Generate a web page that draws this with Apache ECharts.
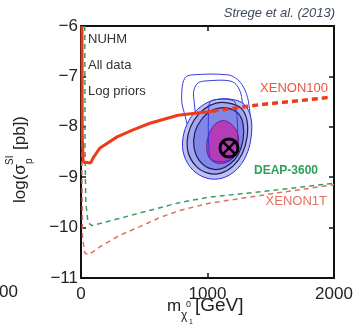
<!DOCTYPE html>
<html>
<head>
<meta charset="utf-8">
<script src="https://cdn.jsdelivr.net/npm/echarts@6/dist/echarts.min.js"></script>
<style>
html, body { margin: 0; padding: 0; background: #fff; }
#chart { width: 356px; height: 332px; }
</style>
</head>
<body>
<div id="chart"></div>
<script>
// axes
var xTicks = [0, 1000, 2000];
var yTicks = [-11, -10, -9, -8, -7, -6];

// limit curves, [neutralino mass GeV, log10 sigma_SI pb]
var xenon100 = [[8, -6], [10, -8.2], [18, -8.7], [75, -8.72], [100, -8.6], [150, -8.42], [285, -8.2],
    [411, -8.06], [545, -7.93], [767, -7.77], [1040, -7.69]];
var xenon100Ext = [[1040, -7.69], [1415, -7.56], [1731, -7.48], [1950, -7.42]];
var deap3600 = [[30, -6], [32, -8.5], [38, -9.5], [55, -9.9], [87, -9.96], [150, -9.92], [300, -9.82],
    [466, -9.71], [783, -9.5], [1004, -9.4], [1557, -9.25], [2000, -9.12]];
var xenon1t = [[5, -6], [8, -9], [12, -10.2], [30, -10.5], [55, -10.54], [100, -10.47], [150, -10.38],
    [300, -10.16], [466, -9.98], [624, -9.8], [783, -9.66], [1004, -9.52], [1557, -9.31], [2000, -9.15]];

// credible regions (outer -> inner)
var ring1 = [[806, -7.63], [798, -7.27], [822, -7.03], [877, -6.97], [1162, -6.97], [1241, -7.07],
    [1296, -7.27], [1328, -7.57], [1336, -8.16], [1257, -8.46], [941, -8.46]];
var ring2 = [[893, -7.47], [893, -7.27], [925, -7.13], [988, -7.09], [1178, -7.09], [1241, -7.21],
    [1273, -7.47], [1281, -8.16], [1099, -8.26], [941, -8.06]];
var fill1 = [[1178, -7.45], [1289, -7.55], [1344, -7.83], [1344, -8.22], [1304, -8.58], [1225, -8.86],
    [1115, -9.02], [996, -9.02], [885, -8.86], [814, -8.56], [806, -8.22], [854, -7.87], [941, -7.61], [1051, -7.47]];
var fill2 = [[1170, -7.53], [1265, -7.63], [1312, -7.87], [1312, -8.22], [1273, -8.54], [1202, -8.78],
    [1107, -8.92], [1004, -8.92], [909, -8.78], [846, -8.5], [846, -8.16], [893, -7.87], [972, -7.65], [1067, -7.53]];
var fill3 = [[1162, -7.63], [1241, -7.73], [1281, -7.94], [1281, -8.26], [1241, -8.56], [1178, -8.74],
    [1099, -8.84], [1012, -8.82], [933, -8.66], [893, -8.4], [901, -8.1], [948, -7.87], [1020, -7.69], [1091, -7.63]];
var core = [[1138, -7.88], [1202, -7.98], [1241, -8.16], [1241, -8.42], [1202, -8.62], [1130, -8.72],
    [1051, -8.7], [1004, -8.56], [996, -8.3], [1028, -8.06], [1075, -7.92]];
var ring3 = [[1012, -7.57], [1043, -7.47], [1194, -7.47], [1225, -7.57], [1233, -8.46], [1178, -8.66],
    [1036, -8.66], [1012, -8.46]];
var bestFit = [[1170, -8.42]];

var FONT = 'Liberation Sans';
var chart = echarts.init(document.getElementById('chart'));

function region(pts, fill, stroke, lw) {
    return {
        type: 'custom',
        data: pts,
        encode: { x: 0, y: 1 },
        silent: true,
        renderItem: function (params, api) {
            if (params.dataIndex !== 0) return;
            var c = pts.map(function (p) { return api.coord(p); });
            return {
                type: 'polygon',
                shape: { points: c, smooth: 0.35 },
                style: { fill: fill, stroke: stroke, lineWidth: lw }
            };
        }
    };
}

function curve(pts, color, width, type) {
    return {
        type: 'line',
        data: pts,
        symbol: 'none',
        lineStyle: { color: color, width: width, type: type },
        silent: true
    };
}

var axisLine = { show: true, onZero: false, lineStyle: { color: '#111', width: 2 } };
var axisTick = { show: true, inside: true, length: 5, lineStyle: { color: '#111', width: 1.5 } };

var option = {
    animation: false,
    grid: { left: 81, right: 22, top: 26, bottom: 54 },
    xAxis: [{
        type: 'value', min: xTicks[0], max: xTicks[xTicks.length - 1], interval: xTicks[1] - xTicks[0],
        position: 'bottom', axisLine: axisLine, axisTick: axisTick, splitLine: { show: false },
        axisLabel: {
            color: '#222', fontSize: 17, fontFamily: FONT, margin: 8,
            formatter: function (v) { return String(v); }
        }
    }, {
        type: 'value', min: xTicks[0], max: xTicks[xTicks.length - 1], interval: xTicks[1] - xTicks[0],
        position: 'top', axisLine: axisLine, axisTick: axisTick, splitLine: { show: false },
        axisLabel: { show: false }
    }],
    yAxis: [{
        type: 'value', min: yTicks[0], max: yTicks[yTicks.length - 1], interval: yTicks[1] - yTicks[0],
        position: 'left', axisLine: axisLine, axisTick: axisTick, splitLine: { show: false },
        axisLabel: {
            color: '#222', fontSize: 17, fontFamily: FONT, margin: 3,
            formatter: function (v) { return v < 0 ? '\u2212' + Math.abs(v) : String(v); }
        }
    }, {
        type: 'value', min: yTicks[0], max: yTicks[yTicks.length - 1], interval: yTicks[1] - yTicks[0],
        position: 'right', axisLine: axisLine, axisTick: axisTick, splitLine: { show: false },
        axisLabel: { show: false }
    }],
    series: [
        curve(deap3600, '#3a9e5c', 1.5, [5, 4]),
        curve(xenon1t, '#e4705c', 1.5, [5, 4]),
        region(ring1, 'none', '#3b3be0', 1),
        region(ring2, 'none', '#3b3be0', 1),
        region(fill1, '#bcc0f3', '#2f2fd8', 1),
        region(fill2, '#a2a6ee', '#1c1c50', 1.2),
        region(fill3, '#8186e8', '#1c1c60', 1.2),
        region(core, '#b43cb8', '#6a2090', 1),
        region(ring3, 'none', '#3434e0', 1),
        {
            type: 'custom',
            data: bestFit,
            silent: true,
            renderItem: function (params, api) {
                var c = api.coord([api.value(0), api.value(1)]);
                var r = 9, d = 6;
                return {
                    type: 'group',
                    children: [
                        { type: 'circle', shape: { cx: c[0], cy: c[1], r: r }, style: { fill: 'none', stroke: '#000', lineWidth: 3 } },
                        { type: 'line', shape: { x1: c[0] - d, y1: c[1] - d, x2: c[0] + d, y2: c[1] + d }, style: { stroke: '#000', lineWidth: 2.5 } },
                        { type: 'line', shape: { x1: c[0] - d, y1: c[1] + d, x2: c[0] + d, y2: c[1] - d }, style: { stroke: '#000', lineWidth: 2.5 } }
                    ]
                };
            }
        },
        curve(xenon100, '#ee3b1c', 3, 'solid'),
        curve(xenon100Ext, '#ee3b1c', 3.5, [6, 4])
    ],
    graphic: [
        { type: 'text', x: 335, y: 13, style: { text: 'Strege et al. (2013)', fontSize: 13, fontStyle: 'italic', fontFamily: FONT, fill: '#3d4a5c', align: 'right', verticalAlign: 'middle' } },
        { type: 'text', x: 88, y: 39, style: { text: 'NUHM', fontSize: 13, fontFamily: FONT, fill: '#333', verticalAlign: 'middle' } },
        { type: 'text', x: 88, y: 65, style: { text: 'All data', fontSize: 13, fontFamily: FONT, fill: '#333', verticalAlign: 'middle' } },
        { type: 'text', x: 88, y: 91, style: { text: 'Log priors', fontSize: 13, fontFamily: FONT, fill: '#333', verticalAlign: 'middle' } },
        { type: 'text', x: 328, y: 88, style: { text: 'XENON100', fontSize: 13, fontFamily: FONT, fill: '#e8553c', align: 'right', verticalAlign: 'middle' } },
        { type: 'text', x: 318, y: 171, style: { text: 'DEAP-3600', fontSize: 12, fontWeight: 'bold', fontFamily: FONT, fill: '#2f9e58', align: 'right', verticalAlign: 'middle' } },
        { type: 'text', x: 327, y: 201, style: { text: 'XENON1T', fontSize: 13, fontFamily: FONT, fill: '#e8705e', align: 'right', verticalAlign: 'middle' } },
        { type: 'text', x: -1, y: 292, style: { text: '00', fontSize: 17, fontFamily: FONT, fill: '#222', verticalAlign: 'middle' } },
        // y axis name
        { type: 'text', x: 20, y: 203, rotation: Math.PI / 2, style: { text: 'log(\u03c3', fontSize: 17, fontFamily: FONT, fill: '#222', verticalAlign: 'middle' } },
        { type: 'text', x: 10, y: 165, rotation: Math.PI / 2, style: { text: 'SI', fontSize: 10, fontFamily: FONT, fill: '#222', verticalAlign: 'middle' } },
        { type: 'text', x: 29, y: 164, rotation: Math.PI / 2, style: { text: 'p', fontSize: 10, fontFamily: FONT, fill: '#222', verticalAlign: 'middle' } },
        { type: 'text', x: 20, y: 150, rotation: Math.PI / 2, style: { text: '[pb])', fontSize: 17, fontFamily: FONT, fill: '#222', verticalAlign: 'middle' } },
        // x axis name
        { type: 'text', x: 167, y: 306, style: { text: 'm', fontSize: 17, fontFamily: FONT, fill: '#222', verticalAlign: 'middle' } },
        { type: 'text', x: 181, y: 316, style: { text: '\u03c7', fontSize: 12, fontFamily: FONT, fill: '#222', verticalAlign: 'middle' } },
        { type: 'text', x: 189, y: 322, style: { text: '1', fontSize: 7, fontFamily: FONT, fill: '#222', verticalAlign: 'middle' } },
        { type: 'text', x: 186, y: 305, style: { text: '0', fontSize: 9, fontFamily: FONT, fill: '#222', verticalAlign: 'middle' } },
        { type: 'text', x: 195, y: 306, style: { text: '[GeV]', fontSize: 19, fontFamily: FONT, fill: '#222', verticalAlign: 'middle' } }
    ]
};
chart.setOption(option);
</script>
</body>
</html>
